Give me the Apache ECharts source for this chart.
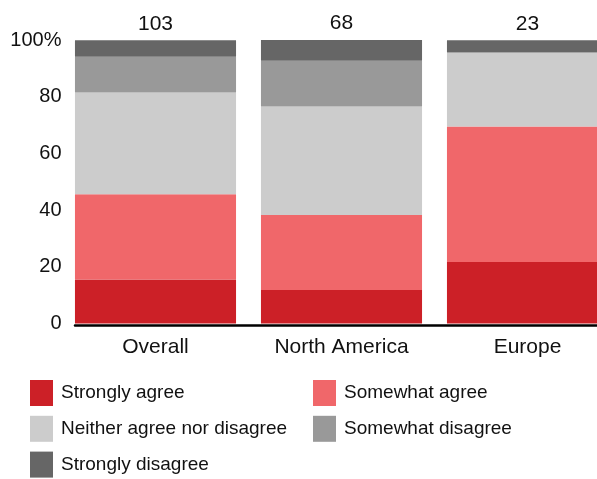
<!DOCTYPE html>
<html>
<head>
<meta charset="utf-8">
<script src="https://cdn.jsdelivr.net/npm/echarts@6/dist/echarts.min.js"></script>
<style>
  html, body { margin: 0; padding: 0; background: #fff; }
  #chart { width: 597px; height: 479px; }
</style>
</head>
<body>
<div id="chart"></div>
<script>
// Survey responses by region (% of respondents)
const regions = ['Overall', 'North America', 'Europe'];
const respondents = [103, 68, 23];

const stronglyAgree    = [15.5, 11.8, 21.7];
const somewhatAgree    = [30.1, 26.5, 47.8];
const neither          = [35.9, 38.2, 26.1];
const somewhatDisagree = [12.6, 16.2, 0];
const stronglyDisagree = [5.8, 7.4, 4.3];

const yTicks = [0, 20, 40, 60, 80, 100];

const FONT = 'Liberation Sans, Arial, sans-serif';

const seriesDefs = [
  { name: 'Strongly agree', data: stronglyAgree, color: '#cc2027' },
  { name: 'Somewhat agree', data: somewhatAgree, color: '#f0676a' },
  { name: 'Neither agree nor disagree', data: neither, color: '#cccccc' },
  { name: 'Somewhat disagree', data: somewhatDisagree, color: '#999999' },
  { name: 'Strongly disagree', data: stronglyDisagree, color: '#666666' }
];

const series = seriesDefs.map((s, i) => {
  const out = {
    name: s.name,
    type: 'bar',
    stack: 'total',
    data: s.data,
    barCategoryGap: '13.4%',
    itemStyle: { color: s.color },
    emphasis: { disabled: true }
  };
  if (i === seriesDefs.length - 1) {
    // respondent count above each stack
    out.label = {
      show: true,
      position: 'top',
      distance: 6,
      color: '#111',
      fontFamily: FONT,
      fontSize: 21,
      formatter: p => String(respondents[p.dataIndex])
    };
  }
  return out;
});

// baseline drawn on its own axis so it starts at the first bar's edge
series.push({
  type: 'line',
  xAxisIndex: 1,
  yAxisIndex: 1,
  data: [],
  silent: true
});

const legendCommon = {
  orient: 'vertical',
  top: 380,
  padding: 0,
  itemWidth: 23,
  itemHeight: 26,
  itemGap: 9.8,
  icon: 'rect',
  selectedMode: false,
  textStyle: { color: '#111', fontFamily: FONT, fontSize: 19, padding: [0, 0, 0, 3] }
};

const chart = echarts.init(document.getElementById('chart'), null, { renderer: 'canvas' });
chart.setOption({
  animation: false,
  backgroundColor: '#ffffff',
  grid: [
    { left: 62.5, width: 558, top: 40, height: 283.5, containLabel: false, outerBoundsMode: 'none' },
    { left: 75, width: 530, top: 41.5, height: 283.5, containLabel: false, outerBoundsMode: 'none' }
  ],
  xAxis: [
    {
      type: 'category',
      gridIndex: 0,
      data: regions,
      axisLine: { show: false },
      axisTick: { show: false },
      axisLabel: { color: '#111', fontFamily: FONT, fontSize: 21, margin: 13 }
    },
    {
      type: 'value',
      gridIndex: 1,
      min: 0, max: 1,
      axisLine: { show: true, onZero: false, lineStyle: { color: '#000', width: 2.5 } },
      axisTick: { show: false },
      axisLabel: { show: false },
      splitLine: { show: false }
    }
  ],
  yAxis: [
    {
      type: 'value',
      gridIndex: 0,
      min: 0,
      max: 100,
      interval: 20,
      axisLine: { show: false },
      axisTick: { show: false },
      splitLine: { show: false },
      axisLabel: {
        color: '#111',
        fontFamily: FONT,
        fontSize: 20,
        margin: 1,
        formatter: v => (yTicks.includes(v) ? (v === 100 ? '100%' : String(v)) : '')
      }
    },
    {
      type: 'value',
      gridIndex: 1,
      min: 0, max: 100,
      show: false
    }
  ],
  legend: [
    Object.assign({}, legendCommon, {
      left: 30,
      data: ['Strongly agree', 'Neither agree nor disagree', 'Strongly disagree']
    }),
    Object.assign({}, legendCommon, {
      left: 313,
      data: ['Somewhat agree', 'Somewhat disagree']
    })
  ],
  series: series
});
</script>
</body>
</html>
